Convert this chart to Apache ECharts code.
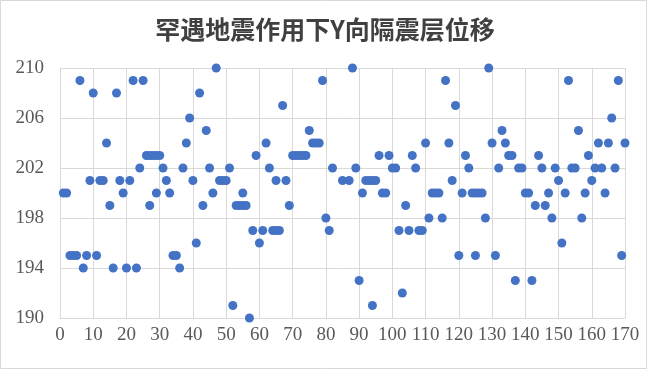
<!DOCTYPE html>
<html>
<head>
<meta charset="utf-8">
<script src="https://cdn.jsdelivr.net/npm/echarts@6/dist/echarts.min.js"></script>
<style>
html,body{margin:0;padding:0;background:#fff;}
#chart{width:650px;height:371px;}
</style>
</head>
<body>
<div id="chart"></div>
<script>
var titleText = '罕遇地震作用下Y向隔震层位移';
var xValues = [1,2,3,4,5,6,7,8,9,10,11,12,13,14,15,16,17,18,19,20,21,22,23,24,25,
  26,27,28,29,30,27,29,
  31,32,33,34,35,36,37,38,39,40,41,42,43,44,45,46,47,48,49,50,
  51,52,53,54,55,55,56,57,58,59,60,61,62,63,64,65,65,66,67,68,69,70,
  71,72,73,74,75,76,77,78,79,80,81,82,85,87,88,89,90,
  91,92,93,94,95,94,96,97,98,99,100,101,102,103,104,105,106,107,108,109,110,
  111,112,113,114,115,116,117,118,119,120,121,122,123,124,125,126,127,125,128,129,130,
  131,132,133,134,135,136,137,138,139,140,141,142,143,144,145,146,147,148,149,150,
  151,152,153,154,155,156,157,158,159,160,161,162,163,164,165,166,167,168,169,170];
var yValues = [200,200,195,195,195,209,194,195,201,208,195,201,201,204,199,194,208,201,200,194,201,209,194,202,209,
  203,203,203,203,203,199,200,
  202,201,200,195,195,194,202,204,206,201,196,208,199,205,202,200,210,201,201,201,
  202,191,199,199,199,200,199,190,197,203,196,197,204,202,197,197,201,197,207,201,199,203,
  203,203,203,203,205,204,204,204,209,198,197,202,201,201,210,202,193,
  200,201,201,201,201,191,203,200,200,203,202,202,197,192,199,197,203,202,197,197,204,
  198,200,200,200,198,209,204,201,207,195,200,203,202,200,200,200,200,195,198,210,204,
  195,202,205,204,203,203,193,202,202,200,200,193,199,203,202,199,200,198,202,201,
  196,200,209,202,202,205,198,200,203,201,202,204,202,200,204,206,202,209,195,204];
var xTicks = {min: 0, max: 170, interval: 10};
var yTicks = {min: 190, max: 210, interval: 4};

var data = xValues.map(function (x, i) { return [x, yValues[i]]; });

var chart = echarts.init(document.getElementById('chart'), null, {renderer: 'canvas'});
chart.setOption({
  animation: false,
  backgroundColor: '#ffffff',
  title: {
    text: titleText,
    left: 'center',
    top: 12,
    textStyle: {
      fontFamily: 'Noto Sans CJK SC',
      fontSize: 25,
      fontWeight: 'bold',
      color: '#404040'
    }
  },
  graphic: [{
    type: 'rect',
    shape: {x: 0.5, y: 0.5, width: 646, height: 368},
    style: {fill: 'none', stroke: '#d9d9d9', lineWidth: 1},
    silent: true,
    z: -1
  }],
  grid: {left: 60, right: 25, top: 68, bottom: 53},
  xAxis: {
    type: 'value',
    min: xTicks.min, max: xTicks.max, interval: xTicks.interval,
    axisLine: {show: true, lineStyle: {color: '#d9d9d9'}},
    axisTick: {show: false},
    splitLine: {show: true, lineStyle: {color: '#d9d9d9'}},
    axisLabel: {
      margin: 8,
      fontFamily: 'Liberation Serif',
      fontSize: 19,
      color: '#595959'
    }
  },
  yAxis: {
    type: 'value',
    min: yTicks.min, max: yTicks.max, interval: yTicks.interval,
    axisLine: {show: true, lineStyle: {color: '#d9d9d9'}},
    axisTick: {show: false},
    splitLine: {show: true, lineStyle: {color: '#d9d9d9'}},
    axisLabel: {
      margin: 16,
      fontFamily: 'Liberation Serif',
      fontSize: 19,
      color: '#595959'
    }
  },
  series: [{
    type: 'scatter',
    data: data,
    symbol: 'circle',
    symbolSize: 9,
    itemStyle: {color: '#4472c4', opacity: 1}
  }]
});
</script>
</body>
</html>
